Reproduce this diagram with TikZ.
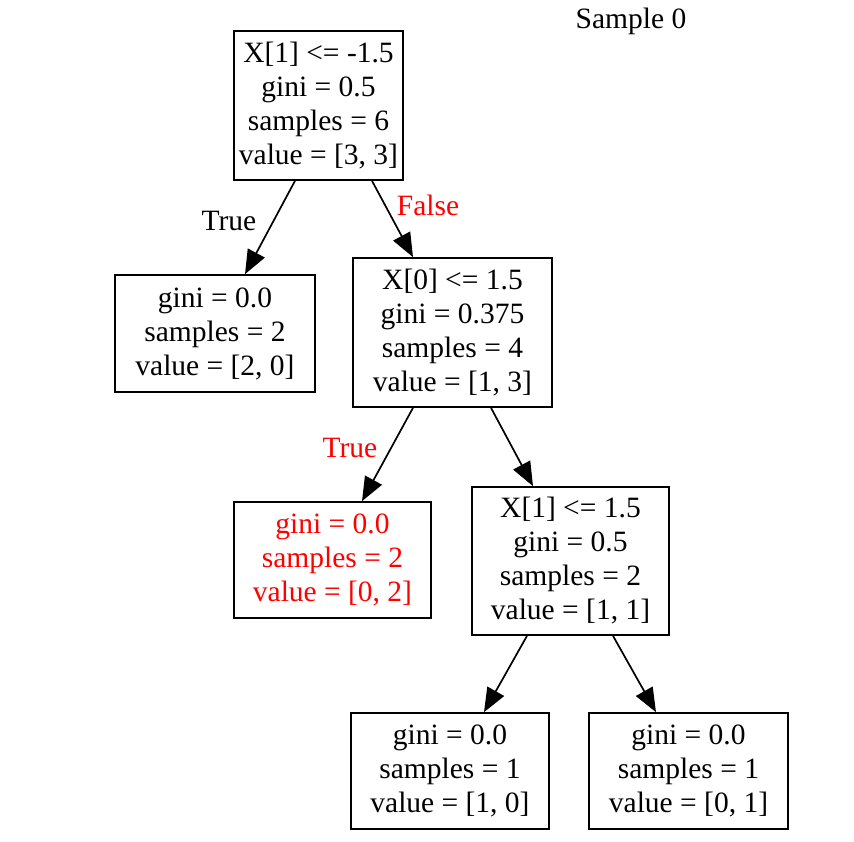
\documentclass[tikz,border=0pt]{standalone}
\usepackage{fontspec}
\setmainfont{Liberation Serif}
\usetikzlibrary{arrows.meta}
\definecolor{gvred}{RGB}{255,0,0}
\begin{document}
\begin{tikzpicture}[x=1pt,y=-1pt,
  box/.style={draw=black,line width=1.7pt,align=center,inner sep=0pt,
    font=\fontsize{29.5}{34}\selectfont},
  edge/.style={line width=1.7pt,-{Triangle[length=24pt,width=19pt]}},
  lbl/.style={font=\fontsize{29.5}{34}\selectfont,inner sep=0pt}]
\useasboundingbox (0,0) rectangle (854,841);
\node[box,minimum width=169pt,minimum height=149pt] (root) at (318.5,105.5)
  {X[1] <= -1.5\\gini = 0.5\\samples = 6\\value = [3, 3]};
\node[box,minimum width=200pt,minimum height=117pt] (leafA) at (215,333.5)
  {gini = 0.0\\samples = 2\\value = [2, 0]};
\node[box,minimum width=199pt,minimum height=149pt] (n1) at (452.5,332.5)
  {X[0] <= 1.5\\gini = 0.375\\samples = 4\\value = [1, 3]};
\node[box,minimum width=197pt,minimum height=116pt,text=gvred] (leafR) at (332.5,560)
  {gini = 0.0\\samples = 2\\value = [0, 2]};
\node[box,minimum width=197pt,minimum height=148pt] (n2) at (570.5,561)
  {X[1] <= 1.5\\gini = 0.5\\samples = 2\\value = [1, 1]};
\node[box,minimum width=198pt,minimum height=116pt] (leafC) at (450,771)
  {gini = 0.0\\samples = 1\\value = [1, 0]};
\node[box,minimum width=199pt,minimum height=116pt] (leafD) at (688.5,771)
  {gini = 0.0\\samples = 1\\value = [0, 1]};
\draw[edge] ([xshift=-23.5pt]root.south) -- ([xshift=30pt]leafA.north);
\draw[edge] ([xshift=53.5pt]root.south) -- ([xshift=-39.5pt]n1.north);
\draw[edge] ([xshift=-39.5pt]n1.south) -- ([xshift=29.5pt]leafR.north);
\draw[edge] ([xshift=38.5pt]n1.south) -- ([xshift=-37.5pt]n2.north);
\draw[edge] ([xshift=-43.5pt]n2.south) -- ([xshift=34pt]leafC.north);
\draw[edge] ([xshift=42.5pt]n2.south) -- ([xshift=-32.5pt]leafD.north);
\node[lbl] (tTrue) at (229,221) {True};
\node[lbl,text=gvred] (tFalse) at (428,205) {False};
\node[lbl,text=gvred] (tTrue2) at (350,448) {True};
\node[lbl] (title) at (631,21) {Sample 0};
\end{tikzpicture}
\end{document}
